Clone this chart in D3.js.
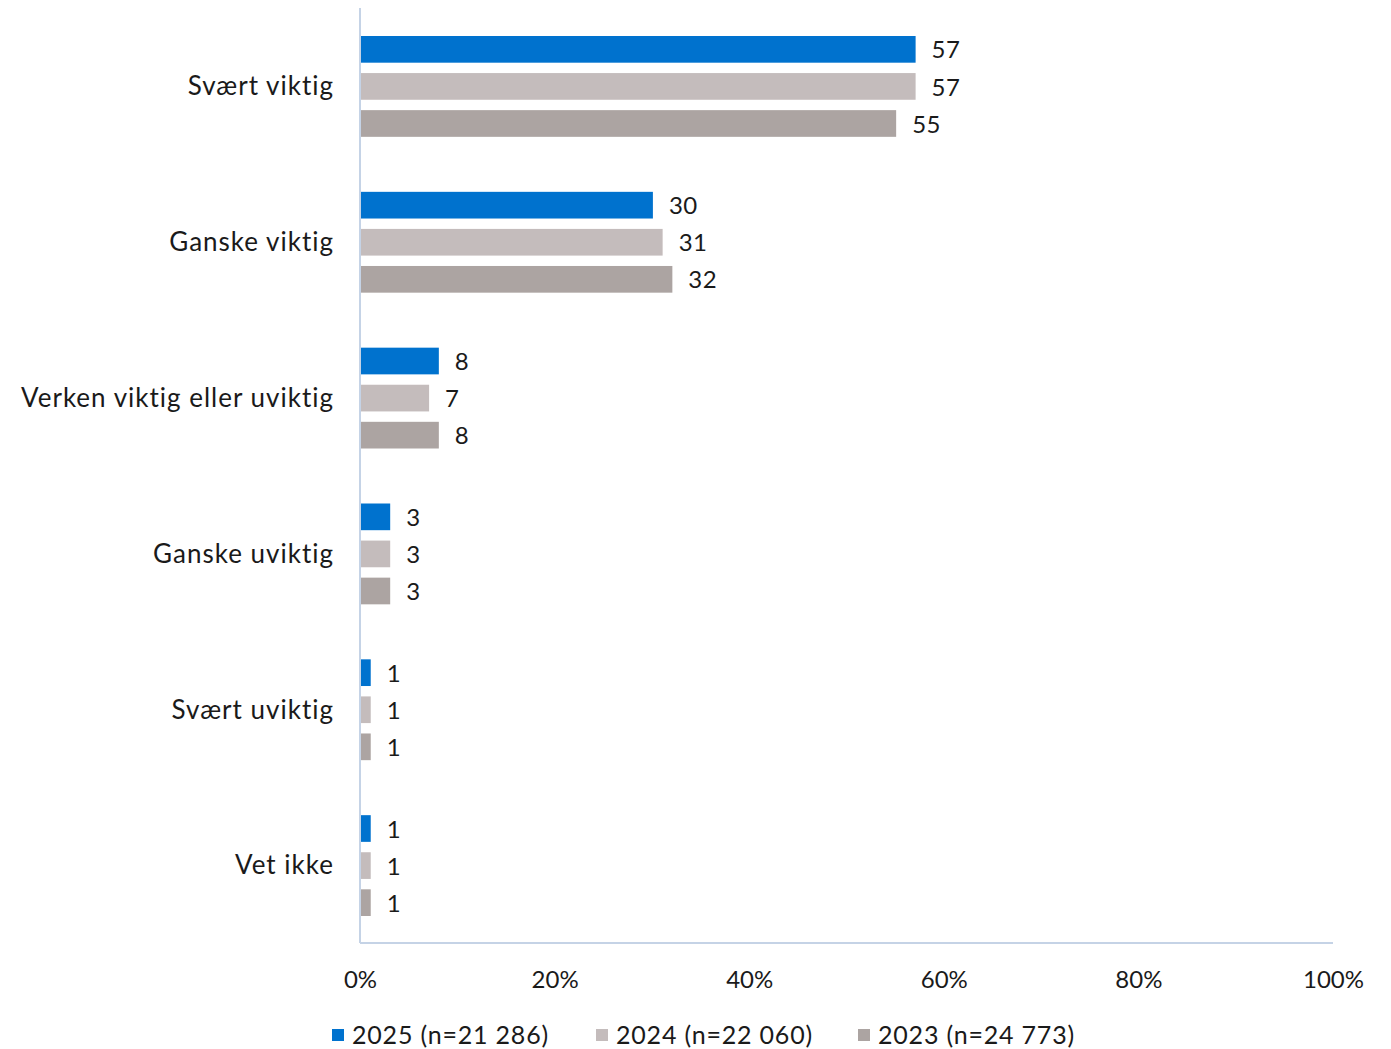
<!DOCTYPE html>
<html>
<head>
<meta charset="utf-8">
<script src="https://cdn.jsdelivr.net/npm/d3@7"></script>
<style>
  html, body { margin: 0; padding: 0; background: #fff; }
  svg text { font-family: "Century Gothic", "URW Gothic", Lato, "DejaVu Sans", sans-serif; fill: #1a1a1a; }
</style>
</head>
<body>
<svg id="chart" width="1391" height="1049"></svg>
<script>
// Share of respondents (%) per answer, for three survey years
const categories = ["Svært viktig", "Ganske viktig", "Verken viktig eller uviktig", "Ganske uviktig", "Svært uviktig", "Vet ikke"];
const seriesNames = ["2025 (n=21 286)", "2024 (n=22 060)", "2023 (n=24 773)"];
const values2025 = [57, 30, 8, 3, 1, 1];
const values2024 = [57, 31, 7, 3, 1, 1];
const values2023 = [55, 32, 8, 3, 1, 1];
const xTicks = [0, 20, 40, 60, 80, 100];
const colors = ["#0072CE", "#C4BCBC", "#ACA4A2"];

const series = [values2025, values2024, values2023];
const svg = d3.select("#chart");

const plotLeft = 360, plotRight = 1333, plotTop = 8, plotBottom = 943;

const x = d3.scaleLinear().domain([0, 100]).range([plotLeft, plotRight]);
const y = d3.scaleBand().domain(categories).range([plotTop, plotBottom]).paddingInner(0).paddingOuter(0);
const inner = d3.scaleBand().domain(d3.range(series.length)).range([28, y.bandwidth() - 27]).paddingInner(0.28);

// bars + value labels
categories.forEach((c, ci) => {
  const g = svg.append("g").attr("transform", `translate(0,${y(c)})`);
  series.forEach((vals, si) => {
    const v = vals[ci];
    g.append("rect")
      .attr("x", x(0) + 1)
      .attr("y", inner(si))
      .attr("width", x(v) - x(0))
      .attr("height", inner.bandwidth())
      .attr("fill", colors[si]);
    g.append("text")
      .attr("x", x(v) + 17)
      .attr("y", inner(si) + inner.bandwidth() / 2)
      .attr("dy", "0.38em")
      .attr("font-size", 24)
      .attr("letter-spacing", 0.5)
      .text(v);
  });
});

// category labels
svg.append("g").selectAll("text").data(categories).join("text")
  .attr("x", plotLeft - 26)
  .attr("y", d => y(d) + y.bandwidth() / 2)
  .attr("dy", "0.36em")
  .attr("text-anchor", "end")
  .attr("font-size", 26)
  .attr("letter-spacing", 1)
  .text(d => d);

// axis lines
svg.append("line").attr("x1", plotLeft).attr("x2", plotLeft).attr("y1", plotTop).attr("y2", plotBottom)
  .attr("stroke", "#C5D3E6").attr("stroke-width", 2);
svg.append("line").attr("x1", plotLeft).attr("x2", plotRight).attr("y1", plotBottom).attr("y2", plotBottom)
  .attr("stroke", "#C5D3E6").attr("stroke-width", 2);

// x tick labels
const xAxis = d3.axisBottom(x).tickValues(xTicks).tickFormat(d => d + "%").tickSize(0).tickPadding(0);
const ax = svg.append("g").attr("transform", `translate(0,${plotBottom + 36})`).call(xAxis);
ax.select(".domain").remove();
ax.selectAll("text").attr("font-size", 24).attr("dy", "0.36em").attr("y", 0)
  .style("font-family", "\"Century Gothic\", \"URW Gothic\", Lato, \"DejaVu Sans\", sans-serif").attr("fill", "#1a1a1a");

// legend
const legendX = [332, 596, 858];
const legend = svg.append("g").attr("transform", "translate(0,1035)");
seriesNames.forEach((name, i) => {
  legend.append("rect").attr("x", legendX[i]).attr("y", -6).attr("width", 12).attr("height", 12).attr("fill", colors[i]);
  legend.append("text").attr("x", legendX[i] + 20).attr("y", 0).attr("dy", "0.36em")
    .attr("font-size", 25).attr("letter-spacing", 0.8).text(name);
});
</script>
</body>
</html>
